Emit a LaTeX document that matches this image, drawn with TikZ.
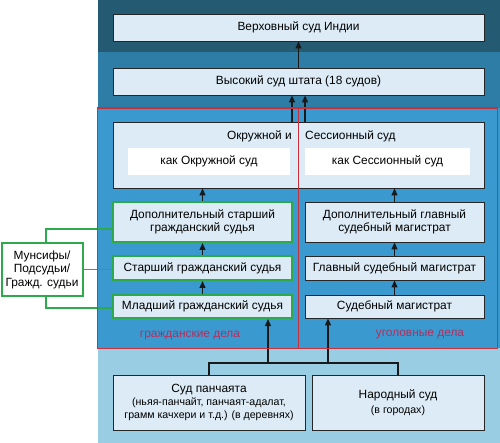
\documentclass[tikz,border=0pt]{standalone}
\usepackage{fontspec}
\setmainfont{Liberation Sans}
\usetikzlibrary{arrows.meta}
\definecolor{bandtop}{HTML}{245A72}
\definecolor{bandmid}{HTML}{2E7DA6}
\definecolor{bandcourt}{HTML}{3A9AD0}
\definecolor{bandlow}{HTML}{99CDE4}
\definecolor{courtfill}{HTML}{DCEBF5}
\definecolor{civilgreen}{HTML}{2DAA4C}
\definecolor{casered}{HTML}{C8303C}
\definecolor{tagred}{HTML}{B0305E}
\newcommand\minor{\fontsize{10.6}{12.5}\selectfont}
\begin{document}
\begin{tikzpicture}[x=1pt,y=-1pt,
		court/.style={draw=black!85, fill=courtfill, line width=0.8pt, inner sep=0pt,
			align=center, text=black, font=\fontsize{11.9}{13.5}\selectfont},
		civil/.style={draw=civilgreen, line width=2pt},
		plain/.style={fill=white, inner sep=0pt, font=\fontsize{11.9}{13.5}\selectfont},
		sized/.style 2 args={minimum width=#1, minimum height=#2},
		arr/.style={-{Triangle[length=7pt,width=6pt]}, line width=1.2pt, black!90},
		wire/.style={line width=1.2pt, black!90},
		link/.style={line width=1.6pt, civilgreen},
		tag/.style={text=tagred, font=\fontsize{11.9}{13.5}\selectfont}]
	\useasboundingbox (0,0) rectangle (500,443);
	% background bands
	\fill[bandtop] (98,0) rectangle (500,52);
	\fill[bandmid] (98,52) rectangle (500,108);
	\fill[bandcourt] (98,108) rectangle (500,348);
	\fill[bandlow] (98,348) rectangle (500,443);
	% upper courts
	\node[court, sized={371pt}{27pt}] (supreme) at (298.5, 27.5) {Верховный суд Индии};
	\node[court, sized={371pt}{27pt}] (high) at (298.5, 81.5) {Высокий суд штата (18 судов)};
	\node[court, sized={371pt}{66pt}] (district) at (298.5, 155) {};
	\node[anchor=base east, inner sep=0pt, font=\fontsize{11.9}{13.5}\selectfont] (distleft) at (292, 139.5) {Окружной и};
	\node[anchor=base west, inner sep=0pt, font=\fontsize{11.9}{13.5}\selectfont] (distright) at (305, 139.5) {Сессионный суд};
	\node[plain, sized={162pt}{27pt}] (asdistrict) at (209, 161.5) {как Окружной суд};
	\node[plain, sized={165pt}{27pt}] (assession) at (387.5, 161.5) {как Сессионный суд};
	% civil side
	\node[court, civil, sized={179pt}{40pt}] (addcivil) at (202.5, 222) {Дополнительный старший\\гражданский судья};
	\node[court, civil, sized={179pt}{24pt}] (seniorcivil) at (202.5, 268) {Старший гражданский судья};
	\node[court, civil, sized={179pt}{23pt}] (juniorcivil) at (202.5, 306.5) {Младший гражданский судья};
	\node[court, civil, fill=white, sized={81pt}{53pt}] (munsif) at (42, 269.5) {Мунсифы/\\Подсудьи/\\Гражд. судьи};
	% criminal side
	\node[court, sized={179pt}{40pt}] (addmag) at (394.5, 222) {Дополнительный главный\\судебный магистрат};
	\node[court, sized={179pt}{24pt}] (chiefmag) at (394.5, 268) {Главный судебный магистрат};
	\node[court, sized={179pt}{23pt}] (mag) at (394.5, 306.5) {Судебный магистрат};
	\node[tag] (civiltag) at (190, 336) {гражданские дела};
	\node[tag] (crimtag) at (420, 335) {уголовные дела};
	% lower courts
	\node[court, sized={192pt}{55pt}] (panchayat) at (209, 402.5)
		{Суд панчаята\\[-1pt]\minor (ньяя-панчайт, панчаят-адалат,\\\minor грамм качхери и т.д.) (в деревнях)};
	\node[court, sized={172pt}{55pt}] (people) at (398, 402.5) {Народный суд\\[1pt]\minor (в городах)};
	% connectors
	\draw[arr] (high.north) -- (supreme.south);
	\draw[arr] ([xshift=-6.5pt]district.north) -- ([xshift=-6.5pt]high.south);
	\draw[arr] ([xshift=6.5pt]district.north) -- ([xshift=6.5pt]high.south);
	\draw[arr] (addcivil.north) -- (addcivil.north |- district.south);
	\draw[arr] (seniorcivil.north) -- (addcivil.south);
	\draw[arr] (juniorcivil.north) -- (seniorcivil.south);
	\draw[arr] (addmag.north) -- (addmag.north |- district.south);
	\draw[arr] (chiefmag.north) -- (addmag.south);
	\draw[arr] (mag.north) -- (chiefmag.south);
	\draw[link] ([xshift=4pt]munsif.north) |- ([yshift=-7pt]addcivil.west);
	\draw[link] (munsif.east) -- (munsif.east -| seniorcivil.west);
	\draw[link] ([xshift=4pt]munsif.south) |- ([yshift=-1.5pt]juniorcivil.west);
	\coordinate (bus) at (298, 363);
	\coordinate (civilin) at (268, 363);
	\coordinate (crimin) at (328, 363);
	\draw[wire] (panchayat.north) |- (bus) -| (people.north);
	\draw[arr] (civilin) -- (civilin |- juniorcivil.south);
	\draw[arr] (crimin) -- (crimin |- mag.south);
	% civil / criminal frame
	\draw[casered, line width=1pt] (298, 108) -- (298, 348.5);
	\draw[casered, line width=1.5pt] (97.5, 108) rectangle (497.5, 348.5);
\end{tikzpicture}
\end{document}
